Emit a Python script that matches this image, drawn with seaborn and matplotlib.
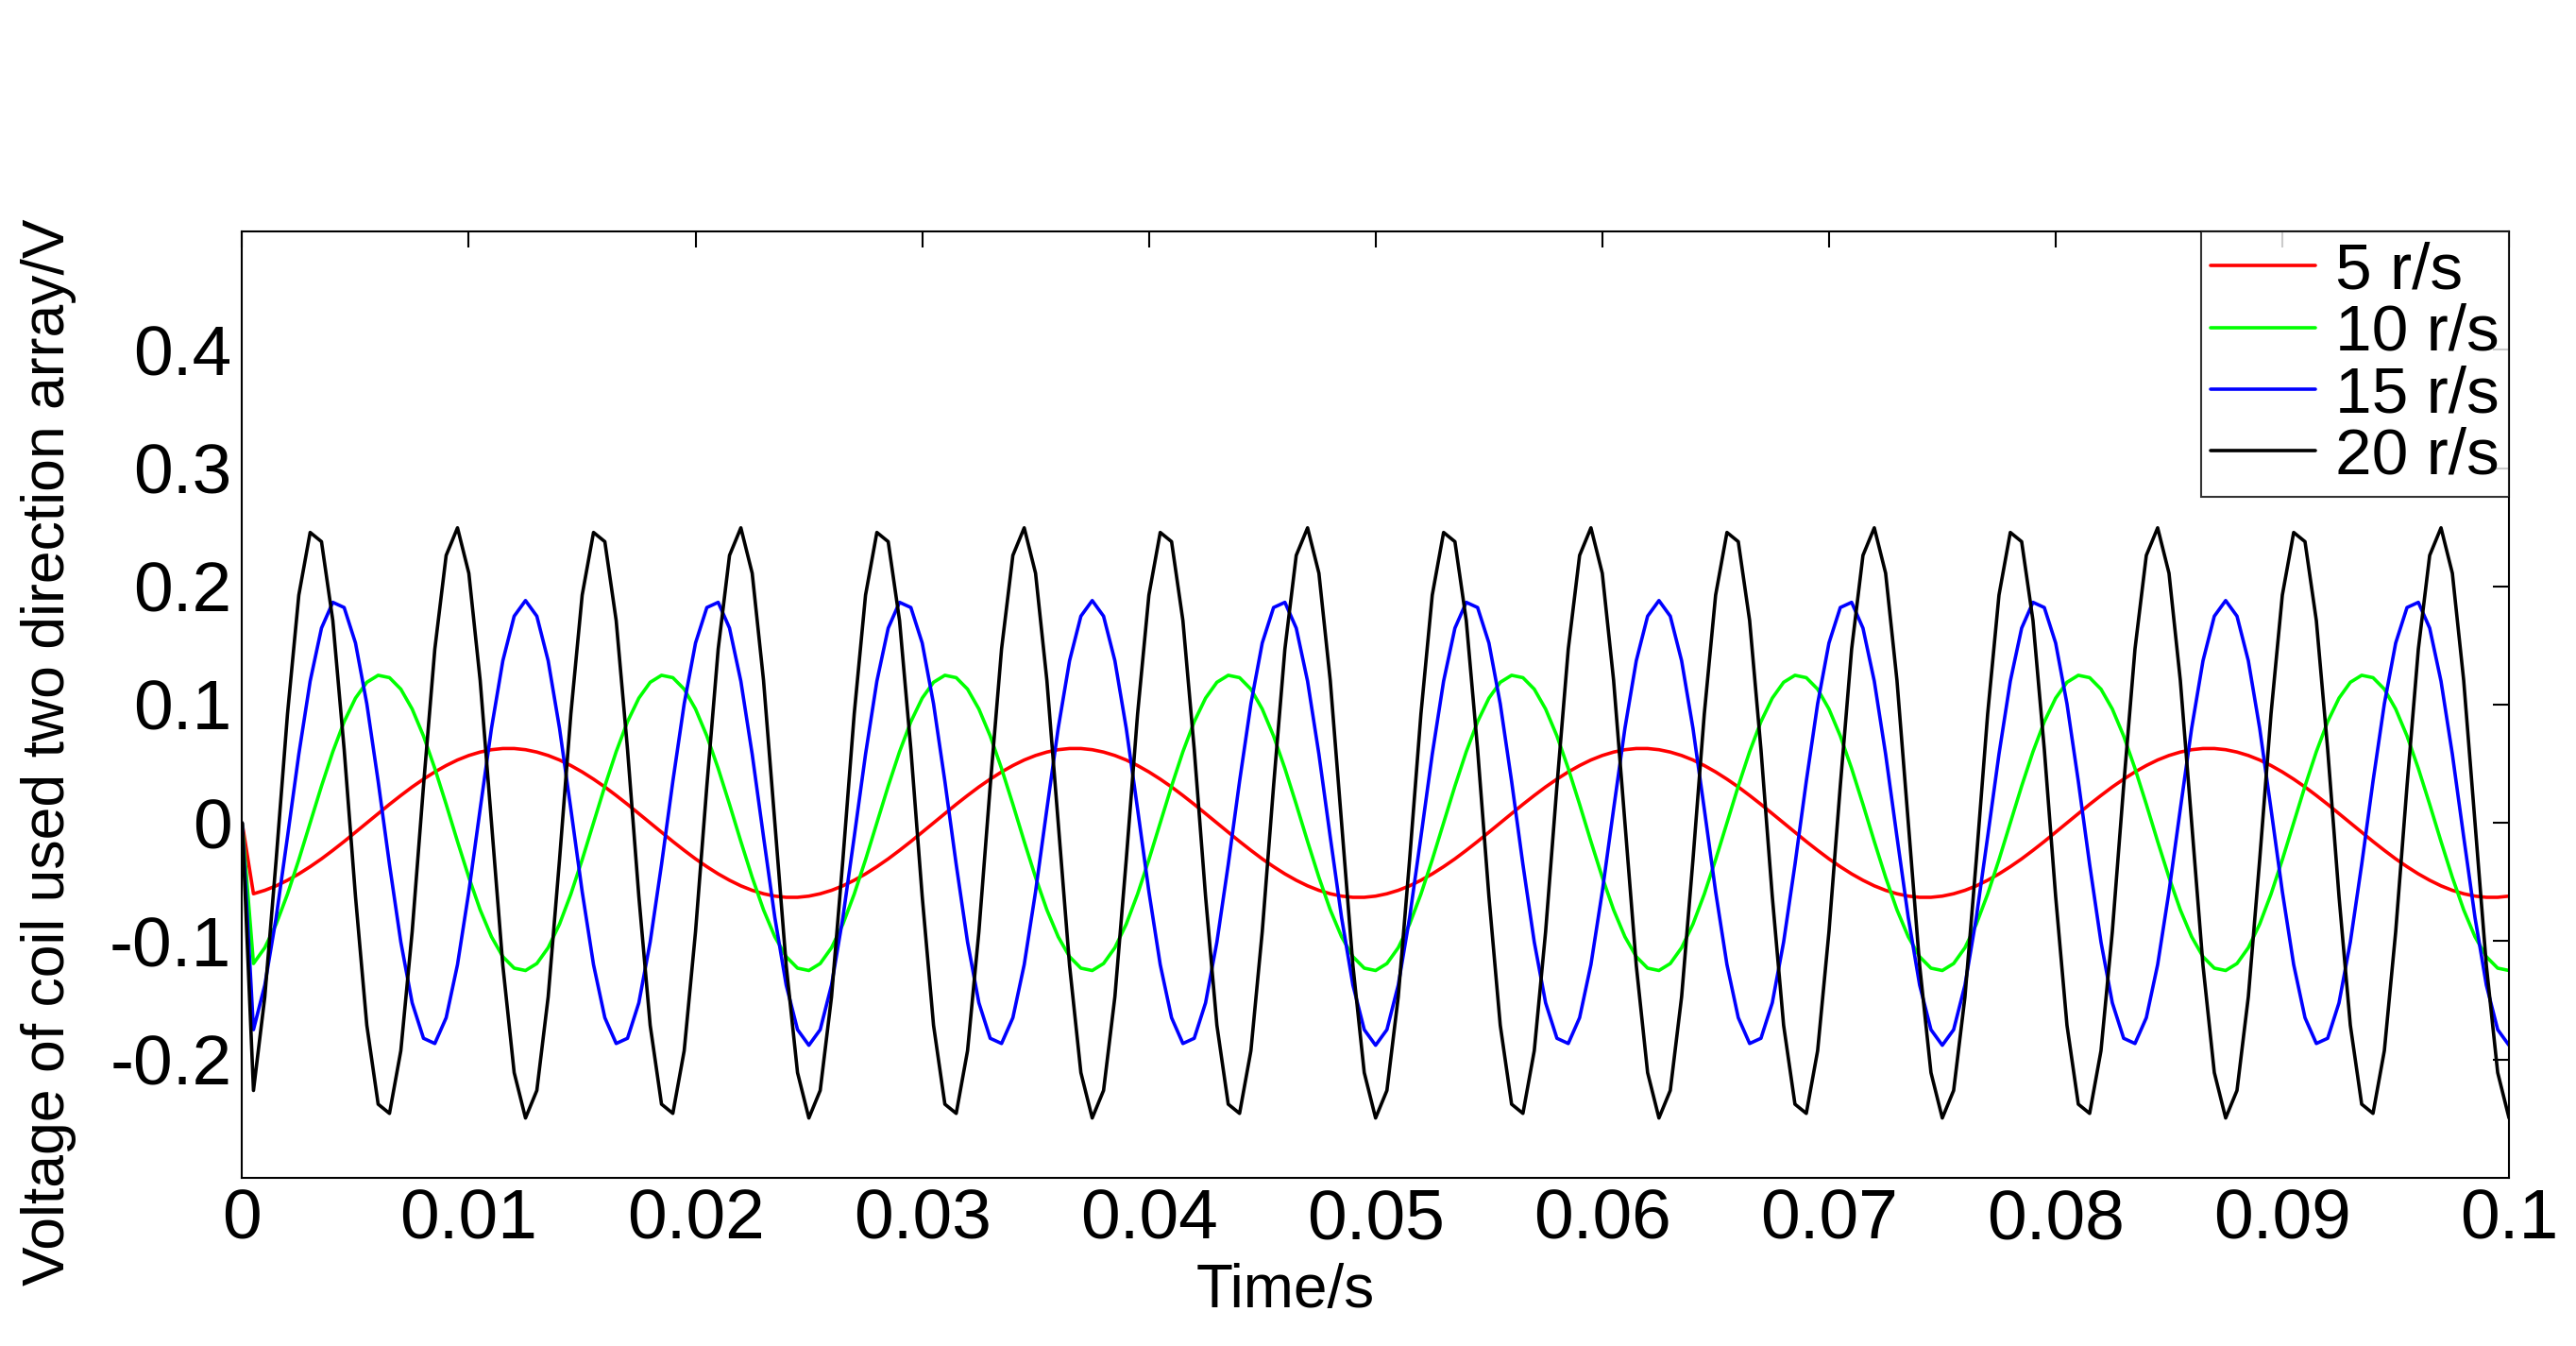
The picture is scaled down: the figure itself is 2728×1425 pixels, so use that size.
import numpy as np
import pandas as pd
import matplotlib
matplotlib.use("Agg")
import matplotlib.pyplot as plt
import seaborn as sns

sns.set_style("white")
plt.rcParams['font.family'] = ['Liberation Sans', 'DejaVu Sans']
plt.rcParams['text.color'] = 'black'
plt.rcParams['axes.labelcolor'] = 'black'
plt.rcParams['xtick.color'] = 'black'
plt.rcParams['ytick.color'] = 'black'

dt = 0.0005
# one 0.025 s block of samples (k = 1..50), repeated across 0..0.1 s; first sample is 0
red_block = [-0.0599,-0.0570,-0.0532,-0.0485,-0.0431,-0.0370,-0.0304,-0.0232,-0.0157,-0.0079,
             0,0.0079,0.0157,0.0232,0.0304,0.0370,0.0431,0.0485,0.0532,0.0570,0.0599,0.0619,0.0629,
             0.0629,0.0619,0.0599,0.0570,0.0532,0.0485,0.0431,0.0370,0.0304,0.0232,0.0157,0.0079,
             0,
             -0.0079,-0.0157,-0.0232,-0.0304,-0.0370,-0.0431,-0.0485,-0.0532,-0.0570,-0.0599,-0.0619,-0.0629,
             -0.0629,-0.0619]
green_cycle = [0,0.0311,0.0602,0.0856,0.1055,0.1189,0.1248,0.1228,0.1131,0.0963,0.0735,0.0460,0.0157,
               -0.0157,-0.0460,-0.0735,-0.0963,-0.1131,-0.1228,-0.1248,-0.1189,-0.1055,-0.0856,-0.0602,-0.0311]
green_block = green_cycle[20:] + green_cycle + green_cycle[:20]
blue_block = [-0.1748,-0.1371,-0.0801,-0.0118,0.0581,0.1198,0.1647,0.1865,0.1821,0.1521,
              0.1007,0.0352,-0.0352,-0.1007,-0.1521,-0.1821,-0.1865,-0.1647,-0.1198,-0.0581,
              0.0118,0.0801,0.1371,0.1748,0.188,0.1748,0.1371,0.0801,0.0118,-0.0581,
              -0.1198,-0.1647,-0.1865,-0.1821,-0.1521,-0.1007,-0.0352,0.0352,0.1007,0.1521,
              0.1821,0.1865,0.1647,0.1198,0.0581,-0.0118,-0.0801,-0.1371,-0.1748,-0.188]
black_half = [-0.2262,-0.1470,-0.0313,0.0920,0.1926,0.2456,0.2378,0.1711,0.0622,-0.0622,
              -0.1711,-0.2378,-0.2456,-0.1926,-0.0920,0.0313,0.1470,0.2262,0.2495,0.2111,
              0.1205,0,-0.1205,-0.2111,-0.2495]
black_block = black_half + black_half

labels = ["5 r/s", "10 r/s", "15 r/s", "20 r/s"]
colors = ["#ff0000", "#00ff00", "#0000ff", "#000000"]
blocks = [red_block, green_block, blue_block, black_block]
n_rep = 4

t = np.arange(0, 1 + 50 * n_rep) * dt
frames = []
for lab, blk in zip(labels, blocks):
    v = [0.0] + list(blk) * n_rep
    frames.append(pd.DataFrame({"t": t, "v": v, "speed": lab}))
df = pd.concat(frames, ignore_index=True)

fig = plt.figure(figsize=(27.28, 14.25), dpi=100)
ax = fig.add_axes([0.094, 0.125, 0.880, 0.703])
sns.lineplot(data=df, x="t", y="v", hue="speed", palette=colors, hue_order=labels,
             linewidth=2.6, ax=ax)

ax.set_xlim(0, 0.1)
ax.set_ylim(-0.3, 0.5)
xt = np.arange(0, 0.1001, 0.01)
ax.set_xticks(xt)
ax.set_xticklabels(["0"] + [f"{x:.2f}" for x in xt[1:-1]] + ["0.1"])
ax.set_yticks([-0.2, -0.1, 0, 0.1, 0.2, 0.3, 0.4])
ax.set_yticklabels(["-0.2", "-0.1", "0", "0.1", "0.2", "0.3", "0.4"])
ax.tick_params(direction="in", length=12, width=1.5, labelsize=54, top=True, right=True,
               pad=8)
for s in ax.spines.values():
    s.set_linewidth(1.5)
    s.set_color("black")
ax.set_xlabel("Time/s", fontsize=46)
ax.xaxis.set_label_coords(0.46, -0.09)
ax.set_ylabel("Voltage of coil used two direction array/V", fontsize=45)
ax.yaxis.set_label_coords(-0.073, 0.45)

leg = ax.legend(loc="upper right", fontsize=50, frameon=True, fancybox=False,
                borderpad=0.15, labelspacing=0.02, handlelength=1.6, handletextpad=0.3,
                borderaxespad=0.0)
leg.get_frame().set_edgecolor("black")
leg.get_frame().set_linewidth(1.5)
for line in leg.get_lines():
    line.set_linewidth(2.6)

fig.savefig("out.png", dpi=100)
